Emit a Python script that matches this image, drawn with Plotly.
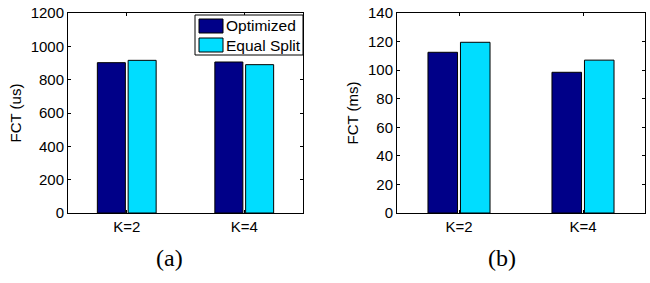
import plotly.graph_objects as go
from plotly.subplots import make_subplots

categories = ["K=2", "K=4"]
series_names = ["Optimized", "Equal Split"]
fct_us_optimized = [902, 906]
fct_us_equal = [916, 890]
fct_ms_optimized = [112.5, 98.5]
fct_ms_equal = [119.5, 107]
yticks_us = [0, 200, 400, 600, 800, 1000, 1200]
yticks_ms = [0, 20, 40, 60, 80, 100, 120, 140]

W, H = 650, 283
colors = ["#000088", "#00DDFF"]
FONT = "Liberation Sans, Arial, Helvetica, sans-serif"

def px(x):
    return x / W

def py(y):
    return 1 - y / H

fig = make_subplots(rows=1, cols=2)

for col, (opt, eq) in enumerate([(fct_us_optimized, fct_us_equal), (fct_ms_optimized, fct_ms_equal)], start=1):
    for name, vals, c in zip(series_names, [opt, eq], colors):
        fig.add_trace(go.Bar(x=categories, y=vals, name=name, marker=dict(color=c, line=dict(color="black", width=1)),
                             showlegend=False), row=1, col=col)

axis_common = dict(showline=True, linecolor="black", linewidth=1, mirror="ticks", ticks="inside", ticklen=3,
                   tickcolor="black", showgrid=False, zeroline=False, automargin=False,
                   tickfont=dict(family=FONT, size=15, color="black"))

fig.update_xaxes(**axis_common)
fig.update_yaxes(**axis_common)

fig.update_layout(
    width=W, height=H, margin=dict(l=0, r=0, t=0, b=0),
    plot_bgcolor="white", paper_bgcolor="white",
    barmode="group", bargap=0.476, bargroupgap=0.09,
    xaxis=dict(domain=[px(68), px(303)], range=[-0.5, 1.5]),
    xaxis2=dict(domain=[px(397), px(645)], range=[-0.5, 1.5]),
    yaxis=dict(domain=[py(213), py(13)], range=[0, 1200], tickvals=yticks_us,
               title=dict(text="FCT (us)", font=dict(family=FONT, size=15, color="black"), standoff=5)),
    yaxis2=dict(domain=[py(213), py(13)], range=[0, 140], tickvals=yticks_ms,
                title=dict(text="FCT (ms)", font=dict(family=FONT, size=15, color="black"), standoff=5)),
)

# manual legend (box, swatches, labels) in the left panel
shapes = [dict(type="rect", xref="paper", yref="paper", x0=px(195), x1=px(303), y0=py(55), y1=py(15),
               line=dict(color="black", width=1), fillcolor="white", layer="above")]
swatch_y = [(19, 33), (38, 52)]
annotations = []
for (y0, y1), c, name in zip(swatch_y, colors, series_names):
    shapes.append(dict(type="rect", xref="paper", yref="paper", x0=px(199), x1=px(223), y0=py(y1), y1=py(y0),
                       line=dict(color="black", width=1), fillcolor=c, layer="above"))
    annotations.append(dict(xref="paper", yref="paper", x=px(224), y=py((y0 + y1) / 2), text=name,
                            showarrow=False, xanchor="left", yanchor="middle",
                            font=dict(family=FONT, size=15.5, color="black")))

for label, cx in [("(a)", 169), ("(b)", 502)]:
    annotations.append(dict(xref="paper", yref="paper", x=px(cx), y=py(258), text=label, showarrow=False,
                            xanchor="center", yanchor="middle",
                            font=dict(family="Liberation Serif, Times New Roman, serif", size=24, color="black")))

fig.update_layout(shapes=shapes, annotations=annotations)

# remove the default page margin so the 650x283 figure fills the window exactly
fig.write_html("out.html", config={"displayModeBar": False},
               post_script="document.body.style.margin='0';")
